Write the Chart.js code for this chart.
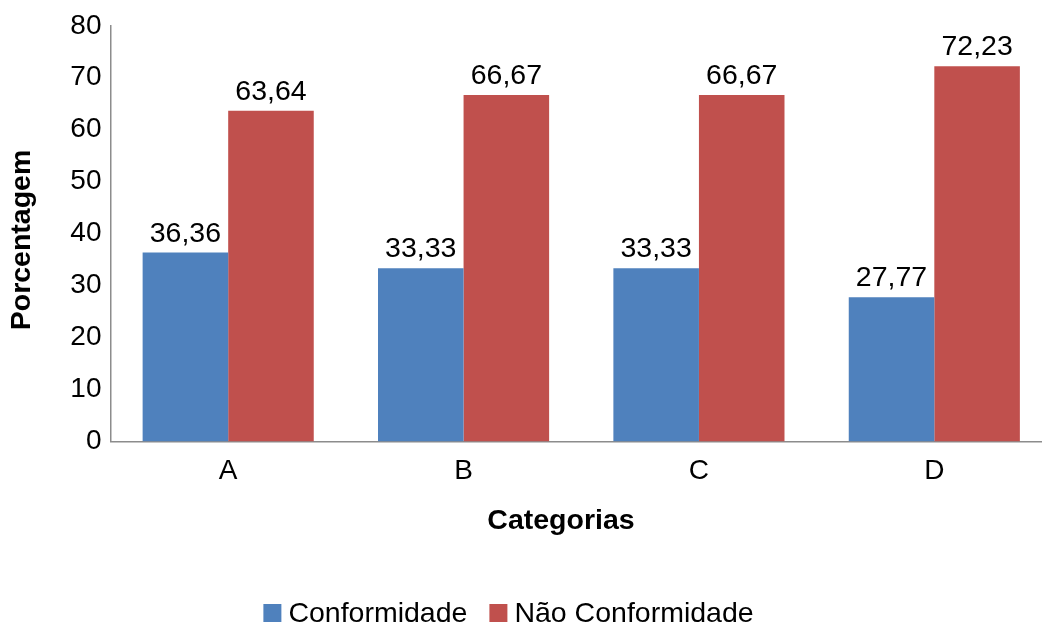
<!DOCTYPE html>
<html>
<head>
<meta charset="utf-8">
<script src="https://cdn.jsdelivr.net/npm/chart.js@4.4.0/dist/chart.umd.min.js"></script>
<style>
  html, body { margin: 0; padding: 0; background: #fff; overflow: hidden; }
  #wrap { width: 1042px; height: 627px; overflow: hidden; position: relative; }
  canvas { display: block; }
</style>
</head>
<body>
<div id="wrap"><canvas id="c" width="1052" height="627"></canvas></div>
<script>
const categories = ['A', 'B', 'C', 'D'];
const conformidade = [36.36, 33.33, 33.33, 27.77];
const naoConformidade = [63.64, 66.67, 66.67, 72.23];
const seriesNames = ['Conformidade', 'Não Conformidade'];
const yTicks = [0, 10, 20, 30, 40, 50, 60, 70, 80];
const xTitle = 'Categorias';
const yTitle = 'Porcentagem';

const BLUE = '#4F81BD';
const RED = '#C0504D';
const FONT = "'Liberation Sans', Arial, sans-serif";

const fmt = v => v.toFixed(2).replace('.', ',');

const overlay = {
  id: 'overlay',
  afterDatasetsDraw(chart) {
    const ctx = chart.ctx;
    ctx.save();
    // data labels
    ctx.font = '28.5px ' + FONT;
    ctx.fillStyle = '#000';
    ctx.textAlign = 'center';
    ctx.textBaseline = 'alphabetic';
    chart.data.datasets.forEach((ds, i) => {
      const meta = chart.getDatasetMeta(i);
      meta.data.forEach((el, j) => {
        ctx.fillText(fmt(ds.data[j]), el.x, el.y - 11);
      });
    });
    // axis titles
    ctx.font = 'bold 28.5px ' + FONT;
    ctx.textBaseline = 'middle';
    ctx.fillText(xTitle, 561, 521);
    ctx.save();
    ctx.translate(22, 240);
    ctx.rotate(-Math.PI / 2);
    ctx.fillText(yTitle, 0, 0);
    ctx.restore();
    // legend
    ctx.font = '28.5px ' + FONT;
    const box = 18, gapText = 7, gapItem = 22;
    const colors = [BLUE, RED];
    const widths = seriesNames.map(n => ctx.measureText(n).width);
    let total = 0;
    widths.forEach((w, i) => { total += box + gapText + w + (i < widths.length - 1 ? gapItem : 0); });
    let x = 508.5 - total / 2;
    const cy = 613;
    ctx.textAlign = 'left';
    seriesNames.forEach((n, i) => {
      ctx.fillStyle = colors[i];
      ctx.fillRect(x, cy - box / 2, box, box);
      ctx.fillStyle = '#000';
      ctx.fillText(n, x + box + gapText, cy + 1);
      x += box + gapText + widths[i] + gapItem;
    });
    ctx.restore();
  }
};

new Chart(document.getElementById('c'), {
  type: 'bar',
  data: {
    labels: categories,
    datasets: [
      { label: seriesNames[0], data: conformidade, backgroundColor: BLUE },
      { label: seriesNames[1], data: naoConformidade, backgroundColor: RED }
    ]
  },
  options: {
    responsive: false,
    animation: false,
    devicePixelRatio: 1,
    layout: { padding: { top: 24, left: 0, right: 0, bottom: 0 } },
    datasets: { bar: { categoryPercentage: 0.727, barPercentage: 1 } },
    plugins: { legend: { display: false }, tooltip: { enabled: false } },
    scales: {
      x: {
        grid: { display: false, drawTicks: false },
        border: { display: true, color: '#8c8c8c', width: 1.5 },
        ticks: { color: '#000', font: { family: FONT, size: 28 }, padding: 13 },
        afterFit(scale) { scale.height = 627 - 441.5; }
      },
      y: {
        min: 0, max: 80,
        afterBuildTicks(scale) { scale.ticks = yTicks.map(v => ({ value: v })); },
        grid: { display: false, drawTicks: false },
        border: { display: true, color: '#8c8c8c', width: 1.5 },
        ticks: { color: '#000', font: { family: FONT, size: 28 }, padding: 9 },
        afterFit(scale) { scale.width = 110.5; }
      }
    }
  },
  plugins: [overlay]
});
</script>
</body>
</html>
